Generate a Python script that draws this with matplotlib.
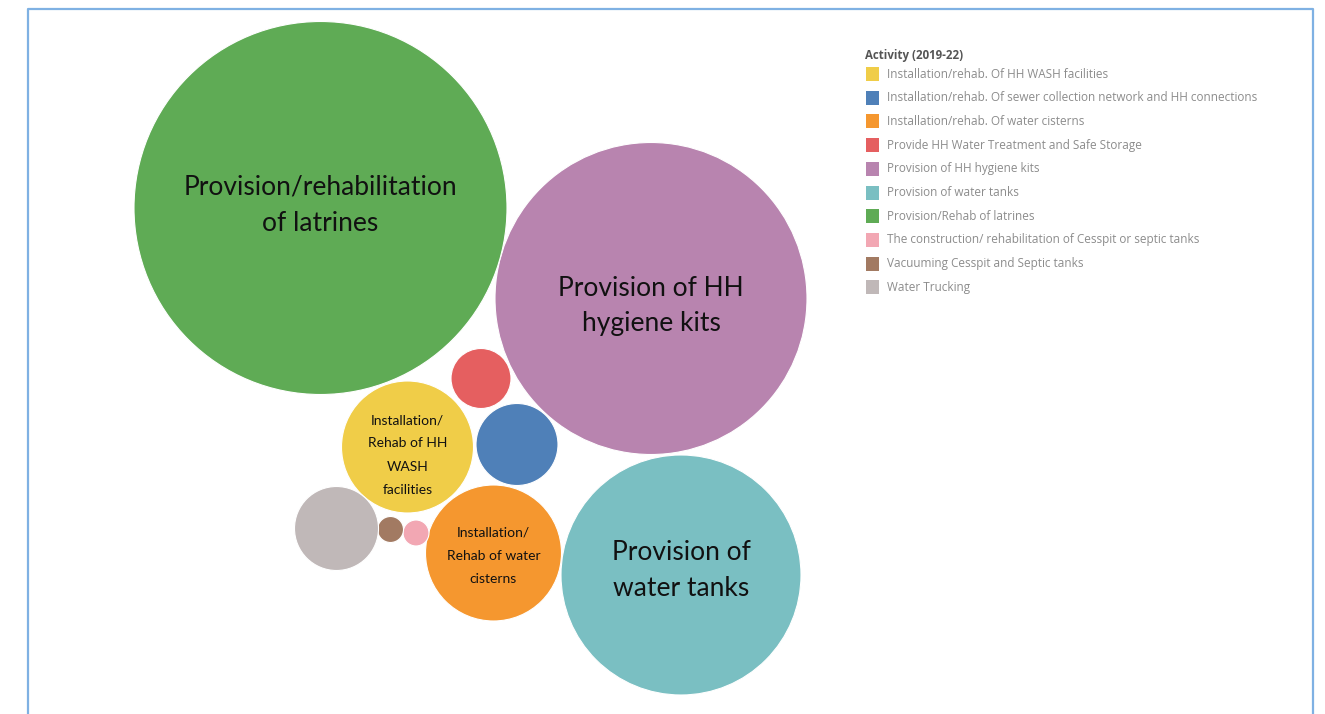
"""Packed bubble chart of WASH activities (2019-22)."""

import matplotlib.pyplot as plt
import numpy as np
from matplotlib.patches import Circle, Rectangle

# Activities, bubble sizes (relative reach) and colours
ACTIVITIES = [
    "Installation/rehab. Of HH WASH facilities",
    "Installation/rehab. Of sewer collection network and HH connections",
    "Installation/rehab. Of water cisterns",
    "Provide HH Water Treatment and Safe Storage",
    "Provision of HH hygiene kits",
    "Provision of water tanks",
    "Provision/Rehab of latrines",
    "The construction/ rehabilitation of Cesspit or septic tanks",
    "Vacuuming Cesspit and Septic tanks",
    "Water Trucking",
]
VALUES = [4356, 1681, 4624, 900, 24336, 14400, 34782, 169, 169, 1764]
COLORS = ["#f0cd48", "#4f80b8", "#f5972f", "#e55f60", "#b884af",
          "#7abfc2", "#5fab55", "#f2a7b3", "#a27a62", "#c0b8b8"]
BUBBLE_LABELS = [
    "Installation/\nRehab of HH\nWASH\nfacilities",
    "",
    "Installation/\nRehab of water\ncisterns",
    "",
    "Provision of HH\nhygiene kits",
    "Provision of\nwater tanks",
    "Provision/rehabilitation\nof latrines",
    "",
    "",
    "",
]
LEGEND_TITLE = "Activity (2019-22)"

# packing layout (bubble centres in figure pixels, label nudges)
CENTERS = [(407.5, 447), (517, 444.5), (493.5, 553), (481, 378.5), (651, 298.5),
           (681, 575), (320.5, 208), (416, 533), (390.5, 529.5), (336.5, 528.5)]
LABEL_DY = [8, 0, 3, 0, 7.5, -4.5, -2.5, 0, 0, 0]
LABEL_SIZE = [10, 0, 10, 0, 19, 19, 19, 0, 0, 0]
LABEL_SPACING = [2.13, 1, 2.13, 1, 1.55, 1.55, 1.55, 1, 1, 1]

W, H = 1325, 714
plt.rcParams["font.family"] = ["Lato", "DejaVu Sans"]

fig = plt.figure(figsize=(W / 100, H / 100), dpi=100)
ax = fig.add_axes([0, 0, 1, 1])
ax.set_xlim(0, W)
ax.set_ylim(H, 0)
ax.set_aspect("equal")
ax.axis("off")

# panel frame (open at the bottom)
ax.plot([28, 28, 1313, 1313], [H + 5, 9, 9, H + 5], color="#7fb1e3",
        lw=1.6, solid_capstyle="butt")

# radius from value: area proportional to value
radii = np.sqrt(np.array(VALUES, dtype=float))
for (cx, cy), r, col, lab, dy, fs, ls in zip(CENTERS, radii, COLORS, BUBBLE_LABELS,
                                             LABEL_DY, LABEL_SIZE, LABEL_SPACING):
    ax.add_patch(Circle((cx, cy), r, facecolor=col, edgecolor="white", lw=0.8))
    if lab:
        ax.text(cx, cy + dy, lab, ha="center", va="center", fontsize=fs,
                color="#111111", linespacing=ls)

# legend
lx, ly0, dy = 866, 74, 23.7
legend_font = ["Open Sans", "DejaVu Sans"]
ax.text(lx - 1, 56, LEGEND_TITLE, fontsize=8.3, fontweight="bold",
        color="#555555", va="center", family=legend_font)
for i, (name, col) in enumerate(zip(ACTIVITIES, COLORS)):
    y = ly0 + i * dy
    ax.add_patch(Rectangle((lx, y - 7), 13, 14, facecolor=col, edgecolor="none"))
    ax.text(lx + 21, y, name, fontsize=8.45, color="#8c8c8c", va="center",
            family=legend_font)

fig.savefig("out.png", dpi=100)
